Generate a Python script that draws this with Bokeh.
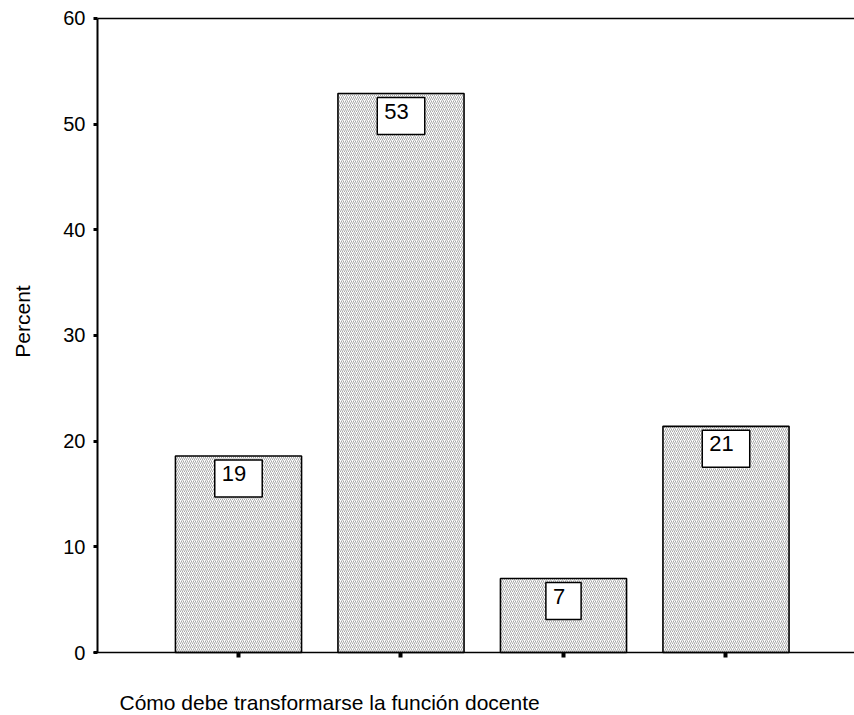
import math
from bokeh.plotting import figure
from bokeh.models import (ColumnDataSource, FixedTicker, LinearAxis, Range1d, Label)
from bokeh.core.properties import value
from bokeh.embed import file_html
from bokeh.resources import INLINE

# ---- data ----
categories = [1, 2, 3, 4]
percents = [18.6, 52.9, 7.0, 21.4]
value_labels = ["19", "53", "7", "21"]
y_ticks = [0, 10, 20, 30, 40, 50, 60]
x_title = "Cómo debe transformarse la función docente"
y_title = "Percent"

FONT = "Liberation Sans"

src = ColumnDataSource(dict(x=categories, top=percents, label=value_labels))

# frame covers the whole canvas; axes are pinned with fixed_location
X0, X1 = -0.4646, 4.7908
Y0, Y1 = -5.962, 61.703
p = figure(width=854, height=715, output_backend="svg", toolbar_location=None,
           x_range=Range1d(X0, X1), y_range=Range1d(Y0, Y1),
           min_border=0)
p.outline_line_color = None
p.xgrid.visible = False
p.ygrid.visible = False
p.background_fill_color = "white"
p.border_fill_color = "white"

p.vbar(x="x", top="top", bottom=0, width=0.776, source=src,
       fill_color="white", hatch_pattern="/", hatch_color="#a8a8a8",
       hatch_scale=4, hatch_weight=1,
       line_color="black", line_width=1.6)

p.text(x="x", y="top", text="label", source=src,
       text_font=value(FONT), text_font_size="22px", text_color="black",
       text_align="center", text_baseline="top", y_offset=4,
       background_fill_color="white", border_line_color="black",
       border_line_width=1.5, padding=[7, 16, 6, 16])

AXIS_X = 0.1323  # left edge of the plotting area

# y axis
ya = p.yaxis[0]
ya.fixed_location = AXIS_X
ya.bounds = (y_ticks[0], y_ticks[-1])
ya.ticker = FixedTicker(ticks=y_ticks)
ya.minor_tick_line_color = None
ya.major_tick_in = 0
ya.major_tick_out = 4
ya.major_tick_line_width = 3
ya.axis_line_width = 2
ya.major_label_standoff = 8
ya.major_label_text_font = FONT
ya.major_label_text_font_size = "20px"
ya.major_label_text_color = "black"

# x axis
xa = p.xaxis[0]
xa.fixed_location = 0
xa.bounds = (0.108, X1)
xa.ticker = FixedTicker(ticks=categories)
xa.major_label_overrides = {c: "" for c in categories}
xa.major_label_text_font_size = "1px"
xa.minor_tick_line_color = None
xa.major_tick_in = 0
xa.major_tick_out = 5
xa.major_tick_line_width = 4
xa.axis_line_width = 1.6

# top border line
top_axis = LinearAxis(ticker=FixedTicker(ticks=[]), major_label_text_font_size="0px",
                      major_tick_out=0, major_tick_in=0, minor_tick_out=0, minor_tick_in=0,
                      axis_line_width=1.3, major_label_standoff=0,
                      fixed_location=y_ticks[-1], bounds=(AXIS_X, X1))
p.add_layout(top_axis, "above")

# axis titles (screen units)
p.add_layout(Label(x=119, y=13, x_units="screen", y_units="screen", text=x_title,
                   text_font=FONT, text_font_size="21px", text_color="black",
                   text_align="left", text_baseline="alphabetic"))
p.add_layout(Label(x=22, y=394, x_units="screen", y_units="screen", text=y_title,
                   angle=math.pi / 2, text_font=FONT, text_font_size="21px",
                   text_color="black", text_align="center", text_baseline="middle"))

open("out.html", "w").write(file_html(p, INLINE))
